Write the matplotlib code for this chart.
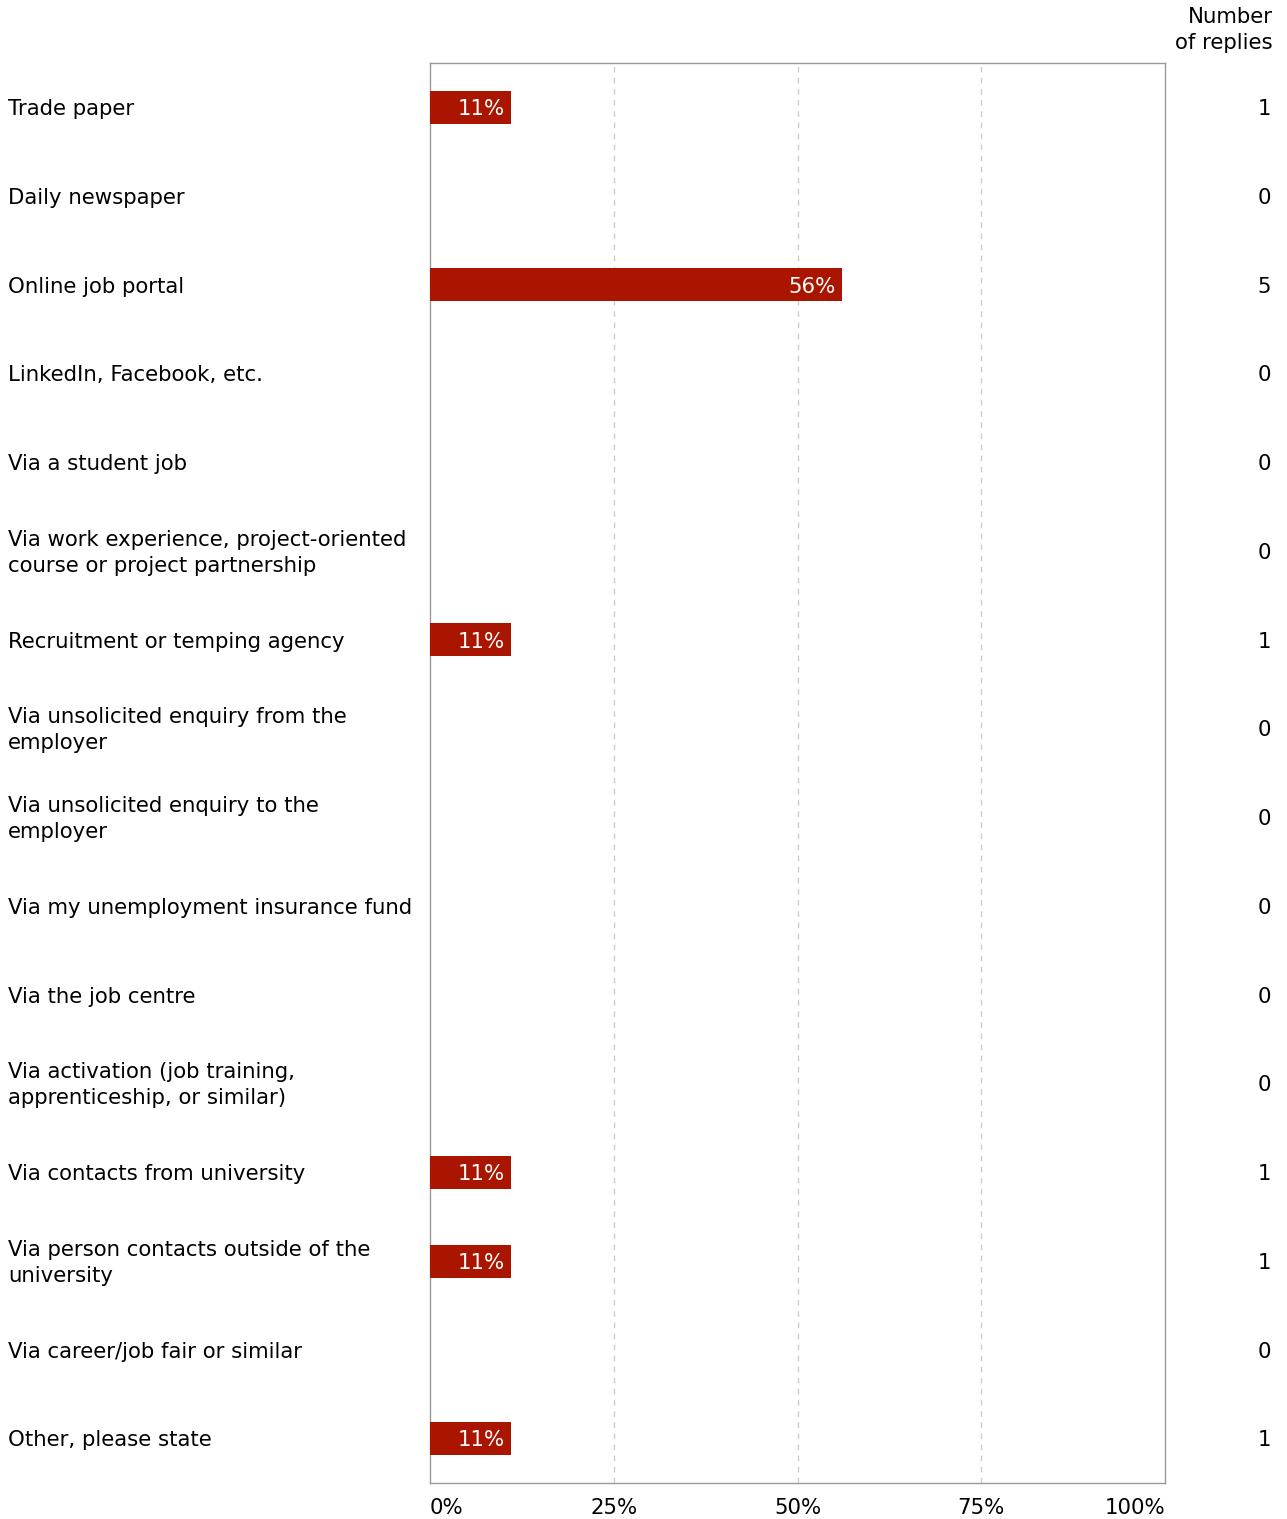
import matplotlib
matplotlib.use("Agg")
import matplotlib.pyplot as plt

categories = [
    "Trade paper",
    "Daily newspaper",
    "Online job portal",
    "LinkedIn, Facebook, etc.",
    "Via a student job",
    "Via work experience, project-oriented\ncourse or project partnership",
    "Recruitment or temping agency",
    "Via unsolicited enquiry from the\nemployer",
    "Via unsolicited enquiry to the\nemployer",
    "Via my unemployment insurance fund",
    "Via the job centre",
    "Via activation (job training,\napprenticeship, or similar)",
    "Via contacts from university",
    "Via person contacts outside of the\nuniversity",
    "Via career/job fair or similar",
    "Other, please state",
]
replies = [1, 0, 5, 0, 0, 0, 1, 0, 0, 0, 0, 0, 1, 1, 0, 1]
percent = [11, 0, 56, 0, 0, 0, 11, 0, 0, 0, 0, 0, 11, 11, 0, 11]
xticks = [0, 25, 50, 75, 100]
xticklabels = ["0%", "25%", "50%", "75%", "100%"]

W, H = 1287, 1519
fig = plt.figure(figsize=(W / 100, H / 100), dpi=100)
left, right, top, bottom = 430, 1165, 63, 1483
ax = fig.add_axes([left / W, 1 - bottom / H, (right - left) / W, (bottom - top) / H])

bar_color = "#AA1500"
n = len(categories)
ys = [i + 0.5 for i in range(n)]
ax.barh(ys, percent, height=0.37, color=bar_color, zorder=3)
ax.set_xlim(0, 100)
ax.set_ylim(n, 0)

fs = 15.3
ls = 1.38
for y, p in zip(ys, percent):
    if p > 0:
        ax.text(p - 0.8, y + 0.02, f"{p}%", ha="right", va="center",
                color="white", fontsize=fs, zorder=4)

for x in xticks[1:-1]:
    ax.axvline(x, color="#cccccc", linestyle=(0, (4, 4)), linewidth=1, zorder=1)

for s in ax.spines.values():
    s.set_color("#999999")
    s.set_linewidth(1)

ax.set_yticks([])
ax.set_xticks(xticks)
ax.set_xticklabels(xticklabels, fontsize=fs)
ax.tick_params(axis="x", length=0, pad=11)
ax.get_xticklabels()[0].set_ha("left")
ax.get_xticklabels()[-1].set_ha("right")

trans = ax.get_yaxis_transform()
for y, cat, r in zip(ys, categories, replies):
    ax.text(-(left - 8) / (right - left), y + 0.02, cat, transform=trans, ha="left",
            va="center", fontsize=fs, linespacing=ls)
    ax.text((1271 - left) / (right - left), y + 0.02, str(r), transform=trans,
            ha="right", va="center", fontsize=fs)

fig.text(1273 / W, 1 - 30 / H, "Number\nof replies", ha="right", va="center",
         fontsize=fs, linespacing=ls)

fig.savefig("out.png", dpi=100)
